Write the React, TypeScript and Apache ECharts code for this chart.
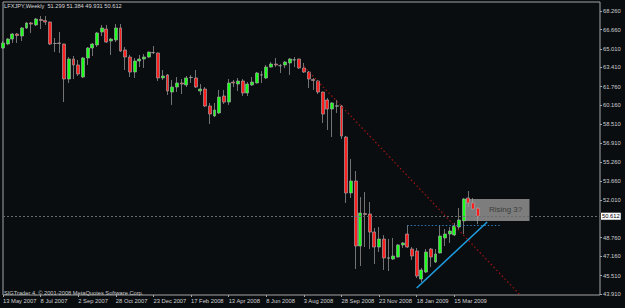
import React, { useEffect, useRef } from 'react';
import * as echarts from 'echarts';

// Weekly LFXJPY candles (13 May 2007 onwards)
const opens = [
  65.08, 65.42, 65.85, 66.28, 66.11, 66.80, 67.23, 67.06, 67.53, 67.44,
  67.31, 65.46, 65.51, 65.42, 62.41, 64.13, 63.62, 62.58, 64.22, 65.08,
  65.34, 66.45, 66.71, 65.68, 65.77, 66.80, 64.91, 64.30, 63.01, 63.96,
  64.13, 64.30, 64.69, 64.65, 62.50, 62.76, 61.29, 61.72, 62.07, 61.90,
  62.53, 62.50, 61.38, 61.55, 60.09, 59.23, 59.49, 60.95, 60.43, 62.15,
  61.98, 62.24, 61.21, 61.90, 62.07, 62.75, 62.50, 63.44, 63.70, 63.55,
  63.62, 63.79, 64.05, 64.13, 63.36, 63.01, 62.37, 62.24, 61.29, 60.61,
  59.83, 60.07, 60.09, 57.42, 52.61, 53.64, 48.05, 50.85, 50.80, 49.25,
  47.96, 48.65, 47.00, 46.93, 47.10, 48.14, 49.08, 47.79, 47.62, 45.21,
  45.81, 47.79, 46.67, 47.45, 48.74, 49.08, 49.00, 49.68, 50.21, 52.18,
  51.75, 51.299,
];
const closes = [
  65.51, 65.85, 66.28, 66.15, 66.80, 67.23, 67.14, 67.57, 67.44, 67.31,
  65.42, 65.47, 65.46, 62.41, 64.13, 63.62, 62.84, 64.22, 65.08, 65.42,
  66.37, 66.80, 65.59, 65.85, 66.80, 64.82, 64.30, 63.01, 63.96, 64.13,
  64.30, 64.73, 64.67, 62.50, 62.67, 61.38, 61.72, 62.07, 61.98, 62.50,
  62.55, 61.72, 61.55, 60.09, 59.40, 59.75, 60.86, 60.43, 62.07, 62.07,
  62.24, 61.21, 61.98, 62.15, 62.93, 62.77, 63.44, 63.70, 63.62, 63.56,
  63.87, 64.13, 64.06, 63.36, 63.01, 62.41, 62.28, 61.29, 59.40, 59.83,
  60.35, 60.11, 57.51, 52.61, 53.64, 48.05, 50.89, 50.76, 49.25, 47.96,
  48.65, 47.02, 47.03, 47.19, 48.14, 48.31, 47.96, 47.19, 45.47, 45.99,
  47.53, 47.10, 47.36, 48.91, 49.08, 49.34, 49.77, 50.29, 52.09, 51.75,
  51.23, 50.612,
];
const lows = [
  64.99, 65.34, 65.51, 65.51, 65.68, 66.71, 66.37, 66.97, 66.71, 67.06,
  65.34, 64.73, 64.65, 60.43, 62.07, 62.41, 62.67, 62.50, 63.62, 64.39,
  65.16, 66.11, 65.51, 64.48, 65.59, 64.73, 63.19, 62.58, 62.50, 63.44,
  63.36, 64.22, 64.56, 62.24, 62.33, 61.04, 60.18, 61.29, 61.12, 61.72,
  62.07, 61.64, 61.04, 60.00, 58.54, 59.14, 59.40, 60.26, 60.18, 61.72,
  61.38, 60.95, 60.95, 61.81, 62.03, 62.07, 62.41, 63.40, 63.44, 62.93,
  63.36, 62.76, 63.44, 63.27, 62.93, 61.64, 61.47, 61.12, 58.63, 58.03,
  57.42, 59.49, 57.25, 51.75, 52.18, 46.07, 46.33, 47.96, 47.79, 46.50,
  47.53, 45.99, 45.90, 46.85, 47.06, 47.88, 47.88, 46.85, 45.30, 44.95,
  45.73, 46.24, 46.59, 47.41, 48.05, 48.31, 48.91, 49.43, 49.08, 51.40,
  51.17, 49.931,
];
const highs = [
  65.68, 65.94, 66.37, 66.37, 66.88, 67.31, 67.31, 67.66, 67.83, 67.83,
  67.35, 65.94, 66.45, 65.45, 64.30, 64.39, 64.05, 64.30, 65.16, 65.51,
  66.45, 67.06, 67.06, 65.94, 67.14, 67.14, 65.16, 64.48, 64.22, 64.48,
  64.56, 64.76, 65.25, 64.68, 63.19, 62.84, 62.33, 62.58, 62.41, 62.67,
  62.76, 63.19, 61.98, 61.72, 60.35, 60.35, 61.47, 61.47, 62.41, 62.33,
  62.50, 62.41, 62.15, 62.58, 63.01, 63.10, 63.62, 63.87, 64.22, 63.70,
  63.96, 64.22, 64.30, 64.16, 63.79, 63.10, 62.50, 62.33, 61.32, 60.78,
  60.43, 60.61, 60.18, 57.51, 55.53, 54.50, 52.26, 52.69, 51.83, 49.60,
  49.68, 48.99, 48.65, 48.74, 48.22, 48.39, 49.86, 47.96, 47.88, 46.16,
  47.79, 47.88, 47.79, 49.77, 49.51, 49.68, 50.03, 51.32, 52.18, 52.78,
  52.18, 51.384,
];

// x-axis: one slot per week, labelled every 8 weeks
const WEEK_SLOTS = 128;
const LABEL_EVERY = 8;
const xTickLabels = [
  '13 May 2007', '8 Jul 2007', '2 Sep 2007', '28 Oct 2007', '23 Dec 2007',
  '17 Feb 2008', '13 Apr 2008', '8 Jun 2008', '3 Aug 2008', '28 Sep 2008',
  '23 Nov 2008', '18 Jan 2009', '15 Mar 2009',
];
const yTicks = [
  43.91, 45.51, 47.16, 48.76, 52.01, 53.66, 55.26, 56.91, 58.51, 60.16,
  61.76, 63.41, 65.01, 66.66, 68.26,
];
const Y_MIN = 43.836;
const Y_MAX = 69.034;
const LAST_PRICE = 50.612;

// annotations: [weekIndex, price]
const trendUp = [[88, 44.44], [103, 50.12]];
const trendDown = [[64, 63.49], [110, 43.84]];
const resistance = [[86, 49.86], [106, 49.86]];
const noteBox = [[98, 52.09], [112, 50.21]];
const noteText = 'Rising 3?';

const headerText = 'LFXJPY,Weekly  51.299 51.384 49.931 50.612';
const copyrightText = 'SIGTrader 4, \u00a9 2001-2008 MetaQuotes Software Corp.';

const FONT = '"Liberation Sans", Arial, sans-serif';

export default function App() {
  const ref = useRef<HTMLDivElement | null>(null);

  useEffect(() => {
    if (!ref.current) return;
    const chart = echarts.init(ref.current, undefined, { renderer: 'svg' });
    const categories = Array.from({ length: WEEK_SLOTS }, (_, i) => String(i));
    const candles = opens.map((o, i) => [o, closes[i], lows[i], highs[i]]);
    const showTick = (idx: number) =>
      idx % LABEL_EVERY === 0 && idx / LABEL_EVERY < xTickLabels.length;

    chart.setOption({
      animation: false,
      backgroundColor: '#0a0d10',
      grid: {
        left: 2,
        right: 25,
        top: 2,
        bottom: 13,
        show: true,
        borderColor: '#a4a4a4',
        borderWidth: 1,
        backgroundColor: 'transparent',
      },
      xAxis: {
        type: 'category',
        data: categories,
        boundaryGap: false,
        axisLine: { show: false },
        axisTick: {
          show: true,
          interval: (idx: number) => showTick(idx),
          length: 2,
          lineStyle: { color: '#a4a4a4' },
        },
        axisLabel: {
          show: true,
          interval: (idx: number) => showTick(idx),
          formatter: (_v: string, idx: number) => xTickLabels[idx / LABEL_EVERY] ?? '',
          align: 'left',
          color: '#cfcfcf',
          fontSize: 5.8,
          fontFamily: FONT,
          margin: 3,
        },
        splitLine: { show: false },
      },
      yAxis: {
        type: 'value',
        position: 'right',
        min: Y_MIN,
        max: Y_MAX,
        scale: true,
        axisLine: { show: false },
        axisTick: {
          show: true,
          length: 2,
          customValues: yTicks,
          lineStyle: { color: '#a4a4a4' },
        },
        axisLabel: {
          show: true,
          customValues: yTicks,
          formatter: (v: number) => v.toFixed(3),
          color: '#cfcfcf',
          fontSize: 5.8,
          fontFamily: FONT,
          margin: 3,
        },
        splitLine: { show: false },
      },
      graphic: [
        {
          type: 'text',
          left: 4,
          top: 2.5,
          style: { text: headerText, fill: '#d8d8d8', fontSize: 5.7, fontFamily: FONT },
        },
        {
          type: 'text',
          left: 4,
          top: 289.5,
          style: { text: copyrightText, fill: '#c8c8c8', fontSize: 5.7, fontFamily: FONT },
        },
      ],
      series: [
        {
          type: 'candlestick',
          data: candles,
          barWidth: 3.4,
          clip: false,
          itemStyle: {
            color: '#19ff19',
            color0: '#ff1e1e',
            borderColor: '#a0a0a0',
            borderColor0: '#a0a0a0',
            borderWidth: 0.7,
          },
          markArea: {
            silent: true,
            itemStyle: { color: '#7d7d7d' },
            label: {
              show: true,
              position: 'inside',
              offset: [9, 0],
              color: '#3c3c3c',
              fontSize: 8,
              fontFamily: FONT,
            },
            data: [
              [
                { name: noteText, coord: noteBox[0] },
                { coord: noteBox[1] },
              ],
            ],
          },
          markLine: {
            silent: true,
            symbol: ['none', 'none'],
            label: { show: false },
            emphasis: { disabled: true },
            data: [
              {
                yAxis: LAST_PRICE,
                lineStyle: { color: '#6a6a6a', type: [2, 2], width: 1 },
                label: {
                  show: true,
                  position: 'end',
                  formatter: LAST_PRICE.toFixed(3),
                  distance: 1,
                  backgroundColor: '#ffffff',
                  borderColor: '#222',
                  borderWidth: 0.5,
                  color: '#000',
                  fontSize: 5.8,
                  fontFamily: FONT,
                  padding: [1, 1, 0, 1],
                },
              },
              [
                { coord: trendDown[0], lineStyle: { color: '#a01414', type: [1.5, 2.5], width: 1.2 } },
                { coord: trendDown[1] },
              ],
              [
                { coord: resistance[0], lineStyle: { color: '#2f76b4', type: [1.5, 2], width: 1 } },
                { coord: resistance[1] },
              ],
              [
                { coord: trendUp[0], lineStyle: { color: '#1f9fe3', type: 'solid', width: 1.5 } },
                { coord: trendUp[1] },
              ],
            ],
          },
        },
      ],
    });

    return () => chart.dispose();
  }, []);

  return (
    <div
      ref={ref}
      style={{ position: 'fixed', left: 0, top: 0, width: 625, height: 308 }}
    />
  );
}
